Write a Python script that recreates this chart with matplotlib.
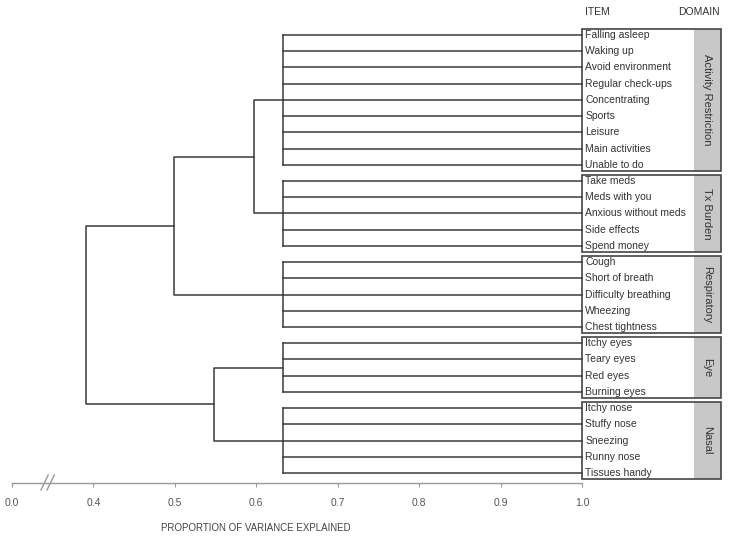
import matplotlib.pyplot as plt
from matplotlib.patches import Rectangle
from matplotlib.transforms import blended_transform_factory

plt.rcParams['font.family'] = ['Liberation Sans', 'DejaVu Sans']

items = ['Falling asleep', 'Waking up', 'Avoid environment', 'Regular check-ups',
         'Concentrating', 'Sports', 'Leisure', 'Main activities', 'Unable to do',
         'Take meds', 'Meds with you', 'Anxious without meds', 'Side effects', 'Spend money',
         'Cough', 'Short of breath', 'Difficulty breathing', 'Wheezing', 'Chest tightness',
         'Itchy eyes', 'Teary eyes', 'Red eyes', 'Burning eyes',
         'Itchy nose', 'Stuffy nose', 'Sneezing', 'Runny nose', 'Tissues handy']
domains = ['Activity Restriction', 'Tx Burden', 'Respiratory', 'Eye', 'Nasal']
domain_sizes = [9, 5, 5, 4, 5]
domain_heights = [0.633, 0.633, 0.633, 0.633, 0.633]
# clusters 0-4 are the domains, each merge makes a new cluster numbered from 5
merges = [(0, 1, 0.597), (5, 2, 0.499), (3, 4, 0.548), (6, 7, 0.391)]
tick_values = [0.0, 0.4, 0.5, 0.6, 0.7, 0.8, 0.9, 1.0]
axis_break = 0.3  # values below this are squeezed onto it (0.0 drawn at 0.3)


def xpos(v):
    return max(v, axis_break)


line_col = '#3a3a3a'
text_col = '#333333'
grey = '#999999'

fig = plt.figure(figsize=(7.29, 5.37), dpi=100)
ax = fig.add_axes([12 / 729, 1 - 483 / 537, 570 / 729, 483 / 537])
ax.set_xlim(axis_break, 1.0)
pitch = 438 / 27.0
ax.set_ylim(27 + 10 / pitch, -35 / pitch)

box_right = 1.0 + 139 / 814.3
strip_left = 1.0 + 112 / 814.3

nodes = {}
start = 0
for k, (name, n, h) in enumerate(zip(domains, domain_sizes, domain_heights)):
    ax.plot([h, h], [start, start + n - 1], color=line_col, lw=1.1)
    for r in range(start, start + n):
        ax.plot([h, 1.0], [r, r], color=line_col, lw=1.1, clip_on=False)
        ax.text(1.004, r, items[r], fontsize=7.5, color=text_col,
                ha='left', va='center', clip_on=False)
    top, height = start - 0.38, n - 1 + 0.76
    ax.add_patch(Rectangle((strip_left, top), box_right - strip_left, height,
                           facecolor='#c8c8c8', edgecolor='none', clip_on=False))
    ax.add_patch(Rectangle((1.0, top), box_right - 1.0, height, facecolor='none',
                           edgecolor='#444444', lw=1.2, clip_on=False))
    ax.text((strip_left + box_right) / 2, start + (n - 1) / 2, name, rotation=-90,
            fontsize=8, color=text_col, ha='center', va='center', clip_on=False)
    nodes[k] = (start + (n - 1) / 2, h)
    start += n

for i, (a, b, h) in enumerate(merges):
    ya, ha = nodes[a]
    yb, hb = nodes[b]
    ax.plot([ha, h, h, hb], [ya, ya, yb, yb], color=line_col, lw=1.1)
    nodes[len(domains) + i] = ((ya + yb) / 2, h)

ax.text(1.004, -1.42, 'ITEM', fontsize=7.5, color=text_col, ha='left', va='center')
ax.text(box_right - 0.001, -1.42, 'DOMAIN', fontsize=7.5, color=text_col,
        ha='right', va='center', clip_on=False)

for s in ['top', 'right', 'left']:
    ax.spines[s].set_visible(False)
ax.spines['bottom'].set_color(grey)
ax.spines['bottom'].set_linewidth(1.0)
ax.set_yticks([])
ax.set_xticks([xpos(v) for v in tick_values], [f'{v:.1f}' for v in tick_values])
ax.tick_params(axis='x', length=3, color=grey, labelcolor='#555555',
               labelsize=7.5, pad=8)
ax.set_xlabel('PROPORTION OF VARIANCE EXPLAINED', fontsize=7, color='#444444')
ax.xaxis.set_label_coords((0.6 - axis_break) / (1.0 - axis_break), -0.082)

# break marks on the axis
trans = blended_transform_factory(ax.transData, ax.transAxes)
for x0 in [0.3355, 0.343]:
    ax.plot([x0, x0 + 0.009], [-0.0145, 0.0166], color=grey, lw=1.0,
            transform=trans, clip_on=False)

fig.savefig('out.png', dpi=100)
